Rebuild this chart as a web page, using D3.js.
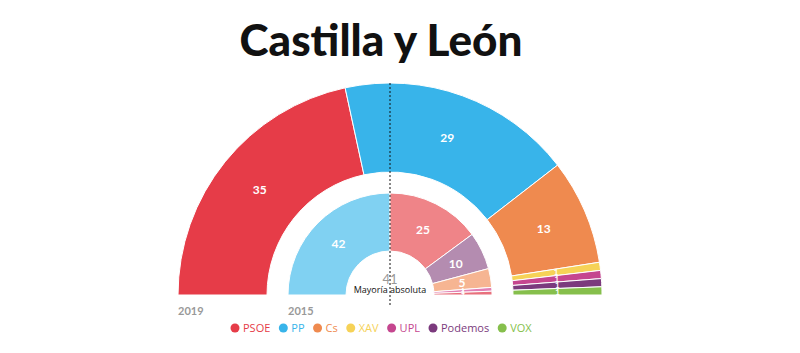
<!DOCTYPE html>
<html>
<head>
<meta charset="utf-8">
<script src="https://cdn.jsdelivr.net/npm/d3@7"></script>
<style>
  body { margin: 0; background: #fff; }
  svg { display: block; }
</style>
</head>
<body>
<div id="chart"></div>
<script>
// Seats per party, 2019 (outer) and 2015 (inner)
var parties2019 = ["PSOE", "PP", "Cs", "XAV", "UPL", "Podemos", "VOX"];
var seats2019 = [35, 29, 13, 1, 1, 1, 1];
var parties2015 = ["PP", "PSOE", "Podemos", "Cs", "UPL", "IU"];
var seats2015 = [42, 25, 10, 5, 1, 1];
var legendParties = ["PSOE", "PP", "Cs", "XAV", "UPL", "Podemos", "VOX"];
var majority = 41;

var colors = {
  PSOE: "#e63c48", PP: "#38b4ea", Cs: "#ef8a4f", XAV: "#f6d257",
  UPL: "#c5468f", Podemos: "#7b3a7d", VOX: "#86bf4c"
};
var colorsLight = {
  PSOE: "#ef8488", PP: "#80d1f2", Cs: "#f6b592", Podemos: "#b48cb0",
  UPL: "#e17fb4", IU: "#e8707c"
};

var width = 800, height = 353;
var cx = 390, cy = 295;

var svg = d3.select("#chart").append("svg")
  .attr("width", width)
  .attr("height", height);

// Title
svg.append("text")
  .attr("x", 381)
  .attr("y", 56)
  .attr("text-anchor", "middle")
  .style("font-family", "Lato")
  .style("font-weight", 900)
  .style("font-size", "44px")
  .style("fill", "#111")
  .text("Castilla y León");

var g = svg.append("g").attr("transform", "translate(" + cx + "," + cy + ")");

// half donut layout
var pie = d3.pie().sort(null)
  .startAngle(-Math.PI / 2)
  .endAngle(Math.PI / 2)
  .value(d => d.seats);

function ring(names, seats, inner, outer, palette, cls) {
  var data = names.map((n, i) => ({ name: n, seats: seats[i] }));
  var arc = d3.arc().innerRadius(inner).outerRadius(outer);
  var arcs = pie(data);
  var grp = g.append("g").attr("class", cls);
  grp.selectAll("path")
    .data(arcs)
    .enter().append("path")
    .attr("d", arc)
    .attr("fill", d => palette[d.data.name])
    .attr("stroke", "#fff")
    .attr("stroke-width", 1);
  grp.selectAll("text")
    .data(arcs)
    .enter().append("text")
    .attr("transform", d => "translate(" + arc.centroid(d) + ")")
    .attr("text-anchor", "middle")
    .attr("dy", "0.35em")
    .style("font-family", "Lato")
    .style("font-weight", 700)
    .style("font-size", d => d.data.seats > 2 ? "12px" : "8px")
    .style("fill", "#fff")
    .text(d => d.data.seats);
}

ring(parties2019, seats2019, 123, 212, colors, "r2019");
ring(parties2015, seats2015, 44, 102, colorsLight, "r2015");

// majority line
g.append("line")
  .attr("x1", 0).attr("x2", 0)
  .attr("y1", -212).attr("y2", 10)
  .attr("stroke", "#111")
  .attr("stroke-width", 1)
  .attr("stroke-dasharray", "2,2");

g.append("text")
  .attr("x", 0).attr("y", -11)
  .attr("text-anchor", "middle")
  .style("font-family", "Lato")
  .style("font-size", "13px")
  .style("fill", "#999")
  .text(majority);

g.append("text")
  .attr("x", 0).attr("y", -2)
  .attr("text-anchor", "middle")
  .style("font-family", "Open Sans")
  .style("font-size", "9px")
  .style("fill", "#111")
  .text("Mayoría absoluta");

// Year labels
[["2019", -212], ["2015", -102]].forEach(function(d) {
  g.append("text")
    .attr("x", d[1]).attr("y", 20)
    .style("font-family", "Lato")
    .style("font-weight", 700)
    .style("font-size", "11px")
    .style("fill", "#999")
    .text(d[0]);
});

// Legend
var legend = svg.append("g").attr("transform", "translate(0,328)");
var lx = 235;
legendParties.forEach(function(p) {
  var item = legend.append("g").attr("transform", "translate(" + lx + ",0)");
  item.append("circle").attr("r", 4.5).attr("fill", colors[p]);
  var t = item.append("text")
    .attr("x", 8).attr("dy", "0.35em")
    .style("font-family", "Open Sans")
    .style("font-size", "11px")
    .style("fill", colors[p])
    .text(p);
  lx += 8 + t.node().getComputedTextLength() + 13;
});
</script>
</body>
</html>
